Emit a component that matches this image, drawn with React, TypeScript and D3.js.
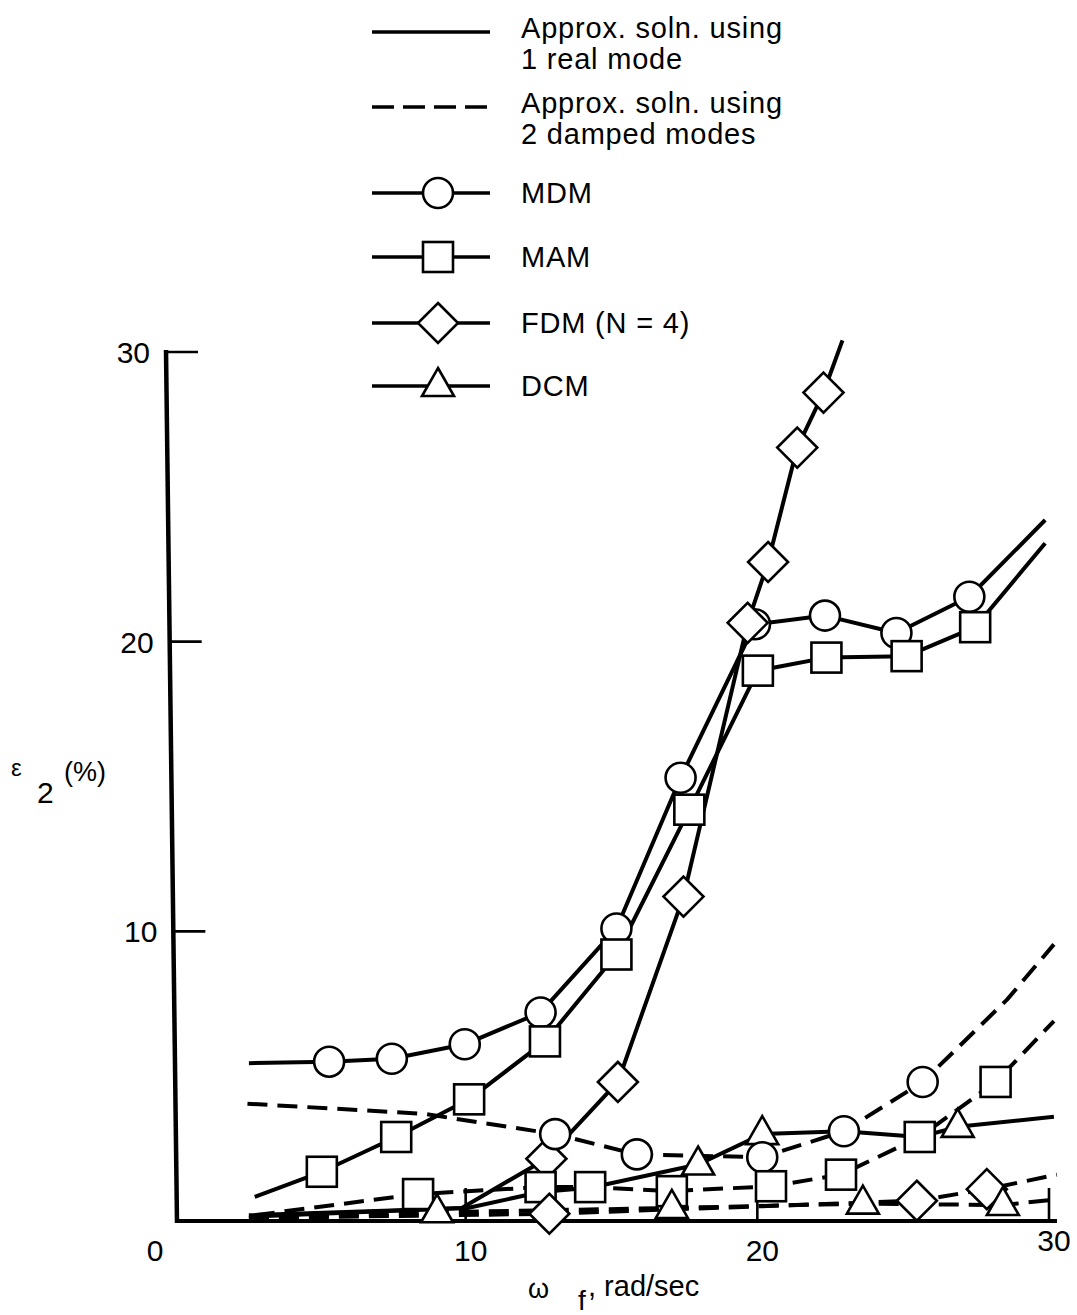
import React from 'react';
import * as d3 from 'd3';

const W = 1077;
const H = 1315;

// ---- data (x: rad/sec, y: percent) ----
// 1 real mode (solid lines)
const mdmSolidX = [2.5, 5.25, 7.4, 9.9, 12.5, 15.1, 17.3, 19.85, 22.25, 24.7, 27.2, 29.8];
const mdmSolidY = [5.45, 5.5, 5.6, 6.1, 7.2, 10.1, 15.3, 20.6, 20.9, 20.3, 21.55, 24.2];
const mdmSolidMarked = [0, 1, 1, 1, 1, 1, 1, 1, 1, 1, 1, 0];

const mamSolidX = [2.7, 5.0, 7.55, 10.05, 12.65, 15.1, 17.6, 19.95, 22.3, 25.05, 27.4, 29.8];
const mamSolidY = [0.83, 1.7, 2.9, 4.2, 6.2, 9.2, 14.2, 19.0, 19.45, 19.5, 20.5, 23.4];
const mamSolidMarked = [0, 1, 1, 1, 1, 1, 1, 1, 1, 1, 1, 0];

const fdmSolidX = [2.5, 9.8, 12.7, 15.15, 17.4, 19.6, 20.3, 21.3, 22.2, 22.85];
const fdmSolidY = [0.15, 0.45, 2.15, 4.8, 11.2, 20.65, 22.75, 26.7, 28.6, 30.4];
const fdmSolidMarked = [0, 0, 1, 1, 1, 1, 1, 1, 1, 0];

const dcmSolidX = [2.5, 10.0, 12.5, 14.2, 17.9, 20.1, 22.9, 25.5, 26.8, 30.1];
const dcmSolidY = [0.2, 0.45, 1.0, 1.15, 1.95, 3.0, 3.1, 2.9, 3.25, 3.6];
const dcmSolidMarked = [0, 0, 0, 0, 1, 1, 0, 0, 1, 0];

// 2 damped modes (dashed lines)
const mdmDashX = [2.45, 8.5, 13.0, 15.8, 20.1, 22.9, 25.6, 28.5, 30.1];
const mdmDashY = [4.05, 3.7, 3.0, 2.3, 2.2, 3.1, 4.8, 7.65, 9.55];
const mdmDashMarked = [0, 0, 1, 1, 1, 1, 1, 0, 0];

const mamDashX = [2.7, 8.3, 12.5, 14.2, 17.0, 20.4, 22.8, 25.5, 28.1, 30.1];
const mamDashY = [0.2, 0.93, 1.17, 1.17, 1.03, 1.2, 1.6, 2.9, 4.8, 6.9];
const mamDashMarked = [0, 1, 1, 1, 1, 1, 1, 1, 1, 0];

const fdmDashX = [2.5, 12.8, 25.4, 27.8, 30.2];
const fdmDashY = [0.1, 0.25, 0.7, 1.1, 1.6];
const fdmDashMarked = [0, 1, 1, 1, 0];

const dcmDashX = [2.5, 8.95, 17.0, 23.55, 28.35, 30.2];
const dcmDashY = [0.1, 0.3, 0.45, 0.6, 0.55, 0.75];
const dcmDashMarked = [0, 1, 1, 1, 1, 0];

const xTicks = [10, 20, 30];
const yTicks = [10, 20, 30];

const legendLabels = [
  ['Approx. soln. using', '1 real mode'],
  ['Approx. soln. using', '2 damped modes'],
  ['MDM'],
  ['MAM'],
  ['FDM (N = 4)'],
  ['DCM'],
];

type Shape = 'circle' | 'square' | 'diamond' | 'triangle' | 'none';

const series: { xs: number[]; ys: number[]; marked: number[]; shape: Shape; dashed: boolean }[] = [
  { xs: mdmSolidX, ys: mdmSolidY, marked: mdmSolidMarked, shape: 'circle', dashed: false },
  { xs: mamSolidX, ys: mamSolidY, marked: mamSolidMarked, shape: 'square', dashed: false },
  { xs: fdmSolidX, ys: fdmSolidY, marked: fdmSolidMarked, shape: 'diamond', dashed: false },
  { xs: dcmSolidX, ys: dcmSolidY, marked: dcmSolidMarked, shape: 'triangle', dashed: false },
  { xs: mdmDashX, ys: mdmDashY, marked: mdmDashMarked, shape: 'circle', dashed: true },
  { xs: mamDashX, ys: mamDashY, marked: mamDashMarked, shape: 'square', dashed: true },
  { xs: fdmDashX, ys: fdmDashY, marked: fdmDashMarked, shape: 'diamond', dashed: true },
  { xs: dcmDashX, ys: dcmDashY, marked: dcmDashMarked, shape: 'triangle', dashed: true },
];

const FONT = '"Liberation Sans", Arial, Helvetica, sans-serif';
const DASH = '20 10';

function Marker({ shape, cx, cy }: { shape: Shape; cx: number; cy: number }) {
  const common = { fill: '#fff', stroke: '#000', strokeWidth: 2.6 };
  if (shape === 'circle') return <circle cx={cx} cy={cy} r={15} {...common} />;
  if (shape === 'square') return <rect x={cx - 15} y={cy - 15} width={30} height={30} {...common} />;
  if (shape === 'diamond')
    return <path d={`M${cx},${cy - 20}L${cx + 20},${cy}L${cx},${cy + 20}L${cx - 20},${cy}Z`} {...common} />;
  if (shape === 'triangle')
    return <path d={`M${cx},${cy - 18}L${cx + 16},${cy + 10}L${cx - 16},${cy + 10}Z`} {...common} />;
  return null;
}

export default function App() {
  const x = d3.scaleLinear().domain([0, 30]).range([176, 1051]);
  const y = d3.scaleLinear().domain([0, 30]).range([1221, 352]);
  const line = d3
    .line<[number, number]>()
    .x((d) => x(d[0]))
    .y((d) => y(d[1]));

  // slightly tilted vertical axis, as in the scanned original
  const axTopX = 166;
  const axBotX = 177;
  const axTopY = y(30) - 2;
  const axBotY = y(0);
  const axisXAt = (py: number) => axTopX + ((py - axTopY) / (axBotY - axTopY)) * (axBotX - axTopX);

  const legX1 = 372;
  const legX2 = 490;
  const legMid = 438;
  const legTextX = 521;
  const legYs = [32, 107, 193, 257, 323, 386];

  return (
    <svg
      width={W}
      height={H}
      viewBox={`0 0 ${W} ${H}`}
      style={{ position: 'absolute', left: 0, top: 0, background: '#fff' }}
      fontFamily={FONT}
    >
      <rect x={0} y={0} width={W} height={H} fill="#fff" />

      {/* axes */}
      <line x1={axTopX} y1={axTopY} x2={axBotX} y2={axBotY + 2} stroke="#000" strokeWidth={4.5} />
      <line x1={axBotX - 2} y1={axBotY} x2={x(30) + 6} y2={axBotY} stroke="#000" strokeWidth={4} />
      {yTicks.map((t) => (
        <g key={'yt' + t}>
          <line x1={axisXAt(y(t))} y1={y(t)} x2={axisXAt(y(t)) + 32} y2={y(t)} stroke="#000" strokeWidth={2.6} />
          <text x={axisXAt(y(t)) - 16} y={y(t) + 11} fontSize={30} textAnchor="end">
            {t}
          </text>
        </g>
      ))}
      {xTicks.map((t) => (
        <g key={'xt' + t}>
          <line x1={x(t) - 2} y1={axBotY} x2={x(t) - 2} y2={axBotY - 33} stroke="#000" strokeWidth={2.6} />
          <text x={x(t) + 3} y={t === 30 ? 1251 : 1261} fontSize={30} textAnchor="middle">
            {t}
          </text>
        </g>
      ))}
      <text x={155} y={1261} fontSize={30} textAnchor="middle">
        0
      </text>

      {/* axis titles */}
      <text x={11} y={776} fontSize={24}>
        ε
      </text>
      <text x={37} y={803} fontSize={30}>
        2
      </text>
      <text x={64} y={781} fontSize={27}>
        (%)
      </text>

      <text x={528} y={1298} fontSize={27}>
        ω
      </text>
      <text x={578} y={1310} fontSize={28}>
        f
      </text>
      <text x={588} y={1296} fontSize={29}>
        , rad/sec
      </text>

      {/* series lines */}
      {series.map((s, i) => (
        <path
          key={'l' + i}
          d={line(s.xs.map((v, j) => [v, s.ys[j]] as [number, number])) || ''}
          fill="none"
          stroke="#000"
          strokeWidth={4}
          strokeDasharray={s.dashed ? DASH : undefined}
          strokeLinejoin="round"
        />
      ))}
      {/* markers */}
      {series.map((s, i) =>
        s.xs.map((v, j) =>
          s.marked[j] ? <Marker key={`m${i}-${j}`} shape={s.shape} cx={x(v)} cy={y(s.ys[j])} /> : null
        )
      )}

      {/* legend */}
      {legendLabels.map((lab, i) => {
        const ly = legYs[i];
        const shape: Shape = (['none', 'none', 'circle', 'square', 'diamond', 'triangle'] as Shape[])[i];
        return (
          <g key={'lg' + i}>
            <line
              x1={legX1}
              y1={ly}
              x2={legX2}
              y2={ly}
              stroke="#000"
              strokeWidth={3.6}
              strokeDasharray={i === 1 ? '22 9' : undefined}
            />
            {shape !== 'none' && <Marker shape={shape} cx={legMid} cy={ly} />}
            {lab.map((t, k) => (
              <text
                key={k}
                x={legTextX}
                y={(lab.length > 1 ? ly + 6 : ly + 10) + k * 31}
                fontSize={29}
                letterSpacing={0.8}
              >
                {t}
              </text>
            ))}
          </g>
        );
      })}
    </svg>
  );
}
